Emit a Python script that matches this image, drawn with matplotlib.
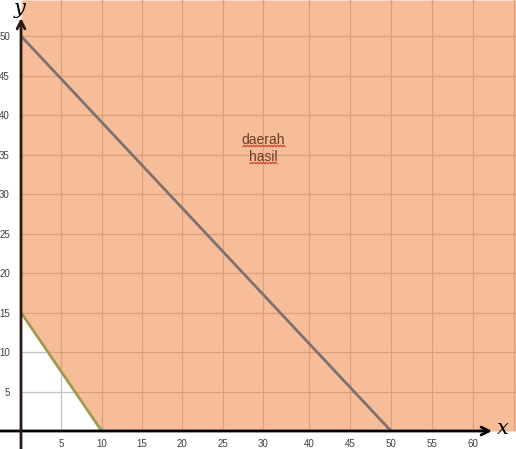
import numpy as np
import matplotlib
matplotlib.use("Agg")
import matplotlib.pyplot as plt
from matplotlib.patches import Polygon

# ---- data ----
line1_x = [0, 10]          # green boundary
line1_y = [15, 0]
line2_x = [0, 50]          # gray boundary
line2_y = [50, 0]
x_ticks = [5, 10, 15, 20, 25, 30, 40, 45, 50, 55, 60]
x_grid = [5, 10, 15, 20, 25, 30, 40, 45, 50, 55, 60, 65]
y_ticks = [5, 10, 15, 20, 25, 30, 35, 40, 45, 50]
region_label = "daerah\nhasil"

W, H = 516, 449
fig = plt.figure(figsize=(W / 100, H / 100), dpi=100)
ax = fig.add_axes([21 / W, 18 / H, 495 / W, 431 / H])

# non-uniform x axis as in the reference (35 is skipped)
def fwd(x):
    x = np.asarray(x, float)
    return np.where(x <= 30, x * 242 / 30,
                    np.where(x <= 40, 242 + (x - 30) * 4.6, 288 + (x - 40) * 8.2))

def inv(p):
    p = np.asarray(p, float)
    return np.where(p <= 242, p * 30 / 242,
                    np.where(p <= 288, 30 + (p - 242) / 4.6, 40 + (p - 288) / 8.2))

ax.set_xscale('function', functions=(fwd, inv))
xmax = 65.24
ymax = 54.56
ax.set_xlim(0, xmax)
ax.set_ylim(0, ymax)

fill_col = '#F7BD98'
grid_gray = '#C4C4C4'
grid_or = '#DCA07C'

# gray grid (visible in the white triangle)
for gx in x_grid:
    ax.axvline(gx, color=grid_gray, lw=0.9, zorder=0.5)
for gy in y_ticks:
    ax.axhline(gy, color=grid_gray, lw=0.9, zorder=0.5)

# feasible region fill
fx = [line1_x[0], line1_x[1], xmax]
flow = [line1_y[0], line1_y[1], 0]
fill = ax.fill_between(fx, flow, ymax, color=fill_col, lw=0, zorder=1)

# orange grid on top of fill, clipped to the fill region
poly = Polygon([(0, 15), (10, 0), (xmax, 0), (xmax, ymax), (0, ymax)],
               closed=True, transform=ax.transData, facecolor='none', edgecolor='none')
for gx in x_grid:
    l = ax.axvline(gx, color=grid_or, lw=0.9, zorder=1.5)
    l.set_clip_path(poly)
for gy in y_ticks:
    l = ax.axhline(gy, color=grid_or, lw=0.9, zorder=1.5)
    l.set_clip_path(poly)

ax.plot(line1_x, line1_y, color='#9E9A4E', lw=2, zorder=3, solid_capstyle='butt')
ax.plot(line2_x, line2_y, color='#7D7270', lw=2, zorder=3, solid_capstyle='butt')

ax.text(30, 35.8, region_label, ha='center', va='center', fontsize=10,
        family='Liberation Sans', color='#6A3A22', linespacing=1.25, zorder=4)

for s in ax.spines.values():
    s.set_visible(False)

ax.set_xticks(x_ticks)
ax.set_xticklabels([str(v) for v in x_ticks])
ax.set_yticks(y_ticks)
ax.set_yticklabels([str(v) for v in y_ticks])
ax.minorticks_off()
ax.tick_params(axis='both', length=0, labelsize=7, labelcolor='#404040')
ax.tick_params(axis='x', pad=6)
ax.tick_params(axis='y', pad=8)
for t in ax.get_xticklabels() + ax.get_yticklabels():
    t.set_family('Liberation Sans')

# axis lines with arrows (figure coordinates)
ax.annotate('', xy=(492 / W, 18 / H), xytext=(0, 18 / H), xycoords='figure fraction',
            arrowprops=dict(arrowstyle='->', lw=2, color='black', mutation_scale=14,
                            shrinkA=0, shrinkB=0), annotation_clip=False)
ax.annotate('', xy=(21 / W, (H - 18) / H), xytext=(21 / W, 0), xycoords='figure fraction',
            arrowprops=dict(arrowstyle='->', lw=2, color='#2A1A12', mutation_scale=14,
                            shrinkA=0, shrinkB=0), annotation_clip=False)
fig.text(503 / W, (H - 429) / H, 'x', ha='center', va='center', fontsize=15,
         family='DejaVu Serif', style='italic', color='black')
fig.text(20 / W, (H - 8) / H, 'y', ha='center', va='center', fontsize=15,
         family='DejaVu Serif', style='italic', color='black')

# red wavy spell-check underline (decoration)
def squiggle(x0, x1, y):
    xs = np.arange(x0, x1 + 0.1, 1.5)
    ys = y + np.where(np.arange(len(xs)) % 2 == 0, 0.8, -0.8)
    fig.add_artist(plt.Line2D(xs / W, (H - ys) / H, color='#D03020', lw=0.7,
                              transform=fig.transFigure))

squiggle(243, 285, 146)
squiggle(250, 277, 163)

fig.savefig('out.png', dpi=100)
